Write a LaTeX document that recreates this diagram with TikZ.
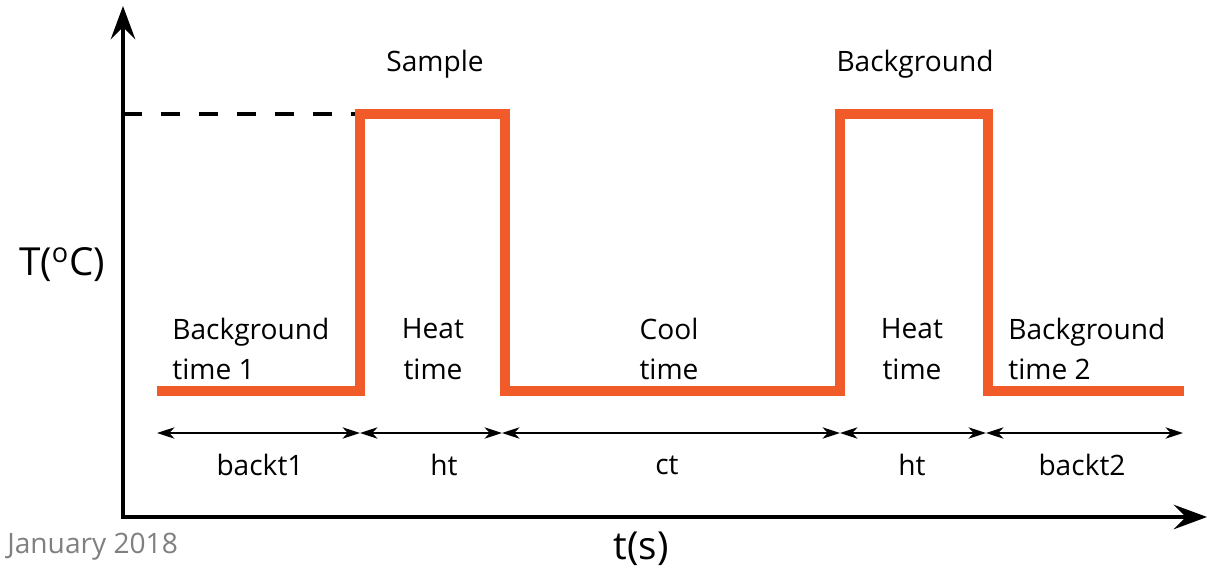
\documentclass[tikz,border=0pt]{standalone}
\usepackage{fontspec}
\setmainfont{Open Sans}
\usetikzlibrary{arrows.meta,positioning}
\definecolor{pulseorange}{RGB}{241,90,41}

\begin{document}
\begin{tikzpicture}[x=0.02cm, y=-0.02cm,
    axis/.style={line width=1.9pt, line cap=rect, -{Stealth[length=19pt, width=14pt, inset=7pt]}},
    pulse/.style={line width=5.2pt, draw=pulseorange, line join=miter},
    span/.style={line width=0.7pt, {Stealth[length=10pt, width=6.5pt, inset=3pt]}-{Stealth[length=10pt, width=6.5pt, inset=3pt]}},
    lbl/.style={font=\fontsize{16}{23}\selectfont, align=center, inner sep=0pt},
    big/.style={font=\fontsize{22}{26}\selectfont, inner sep=0pt}
]
    \useasboundingbox (0,0) rectangle (1207,571);

    % axes
    \coordinate (o) at (123,517);
    \coordinate (ytop) at (123,6);
    \coordinate (xend) at (1207,517);
    \coordinate (thigh) at (123,114);
    \draw[axis] (o) -- (ytop);
    \draw[axis] (o) -- (xend);

    % temperature profile
    \coordinate (p0) at (157,391);
    \coordinate (p1) at (360,391);
    \coordinate (p2) at (505,391);
    \coordinate (p3) at (840,391);
    \coordinate (p4) at (988,391);
    \coordinate (p5) at (1184,391);
    \draw[line width=1.9pt, dash pattern=on 10.8pt off 10.8pt] (thigh) -- (p1 |- thigh);
    \draw[pulse] (p0) -- (p1) -- (p1 |- thigh) -- (p2 |- thigh) -- (p2) -- (p3)
        -- (p3 |- thigh) -- (p4 |- thigh) -- (p4) -- (p5);

    % durations
    \coordinate (d0) at (157,433);
    \coordinate (d1) at (360,433);
    \coordinate (d2) at (502,433);
    \coordinate (d3) at (840,433);
    \coordinate (d4) at (986,433);
    \coordinate (d5) at (1183,433);
    \draw[span] (d0) -- (d1);
    \draw[span] (d1) -- (d2);
    \draw[span] (d2) -- (d3);
    \draw[span] (d3) -- (d4);
    \draw[span] (d4) -- (d5);

    \node[lbl] (backt1) at (260,465) {backt1};
    \node[lbl] (ht1) at (444,465) {ht};
    \node[lbl] (ct) at (667,465) {ct};
    \node[lbl] (ht2) at (912,465) {ht};
    \node[lbl] (backt2) at (1082,465) {backt2};

    % phases
    \node[lbl, anchor=west, align=left] (bg1) at (172,349) {Background\\time 1};
    \node[lbl] (heat1) at (433,349) {Heat\\time};
    \node[lbl] (cool) at (669,349) {Cool\\time};
    \node[lbl] (heat2) at (912,349) {Heat\\time};
    \node[lbl, anchor=west, align=left] (bg2) at (1008,349) {Background\\time 2};
    \node[lbl] (sample) at (435,64) {Sample};
    \node[lbl] (bgrun) at (915,64) {Background};

    \node[big] (tlabel) at (62,265) {T(\textsuperscript{o}C)};
    \node[big] (slabel) at (641,549) {t(s)};
    \node[lbl, anchor=west, text=gray] (date) at (7,547) {January 2018};
\end{tikzpicture}
\end{document}
